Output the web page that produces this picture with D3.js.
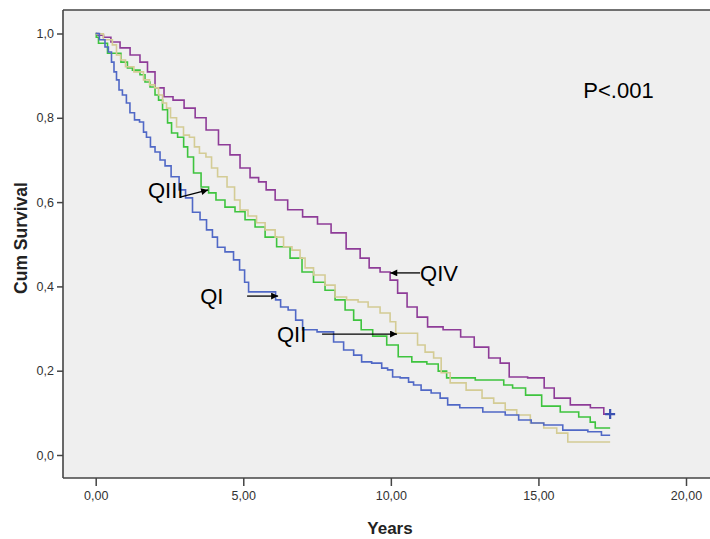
<!DOCTYPE html>
<html>
<head>
<meta charset="utf-8">
<script src="https://cdn.jsdelivr.net/npm/d3@7"></script>
<style>
  body { margin: 0; background: #fff; }
  svg { display: block; font-family: 'Liberation Sans', Arial, sans-serif; }
</style>
</head>
<body>
<svg id="chart" width="710" height="539"></svg>
<script>
// survival curves: [years, cum survival]
const qI = [[0, 1], [0.25, 0.985], [0.38, 0.968], [0.48, 0.956], [0.59, 0.932], [0.65, 0.909], [0.76, 0.89], [0.82, 0.866], [0.99, 0.854], [1.09, 0.835], [1.23, 0.812], [1.4, 0.795], [1.57, 0.79], [1.67, 0.766], [1.77, 0.754], [1.94, 0.731], [2.08, 0.719], [2.28, 0.7], [2.42, 0.686], [2.69, 0.66], [2.96, 0.629], [3.13, 0.61], [3.43, 0.576], [3.64, 0.558], [3.87, 0.534], [4.04, 0.517], [4.21, 0.493], [4.55, 0.482], [4.79, 0.463], [4.96, 0.439], [5.13, 0.41], [5.23, 0.387], [6.01, 0.387], [6.18, 0.368], [6.35, 0.351], [6.69, 0.344], [6.86, 0.32], [7.16, 0.297], [7.84, 0.292], [8.28, 0.268], [8.52, 0.249], [8.96, 0.237], [9.06, 0.221], [9.64, 0.218], [9.74, 0.206], [10.04, 0.202], [10.08, 0.185], [10.55, 0.183], [10.65, 0.173], [10.89, 0.166], [11.16, 0.154], [11.57, 0.147], [11.77, 0.135], [12.08, 0.119], [12.59, 0.112], [13.64, 0.102], [14.11, 0.095], [14.55, 0.083], [14.96, 0.076], [15.4, 0.071], [16.25, 0.059], [17.1, 0.055], [17.17, 0.047], [17.43, 0.047]]

const qII = [[0, 1], [0.04, 0.999], [0.48, 0.985], [0.65, 0.973], [0.76, 0.949], [0.93, 0.937], [1.09, 0.921], [1.5, 0.909], [1.74, 0.89], [1.91, 0.878], [2.08, 0.871], [2.18, 0.854], [2.35, 0.835], [2.45, 0.823], [2.62, 0.8], [2.86, 0.778], [3.09, 0.759], [3.26, 0.754], [3.43, 0.731], [3.6, 0.716], [3.87, 0.707], [3.98, 0.681], [4.28, 0.66], [4.62, 0.636], [4.79, 0.605], [4.99, 0.581], [5.33, 0.567], [5.57, 0.551], [5.91, 0.534], [6.25, 0.517], [6.48, 0.494], [6.82, 0.486], [7.03, 0.467], [7.16, 0.444], [7.6, 0.427], [7.94, 0.403], [8.28, 0.375], [8.72, 0.368], [9.06, 0.363], [9.4, 0.351], [9.87, 0.337], [10.08, 0.316], [10.25, 0.289], [10.82, 0.289], [10.99, 0.261], [11.33, 0.244], [11.57, 0.23], [11.84, 0.195], [12.18, 0.171], [12.92, 0.154], [13.26, 0.135], [13.71, 0.123], [14.04, 0.107], [14.49, 0.095], [14.96, 0.076], [15.4, 0.064], [15.84, 0.052], [16.15, 0.031], [17.43, 0.031]]

const qIII = [[0, 1], [0.04, 0.991], [0.15, 0.977], [0.65, 0.953], [1.06, 0.932], [1.09, 0.918], [1.4, 0.913], [1.6, 0.902], [1.74, 0.885], [1.94, 0.873], [2.08, 0.854], [2.18, 0.842], [2.35, 0.819], [2.52, 0.788], [2.62, 0.764], [2.93, 0.754], [3.03, 0.731], [3.2, 0.707], [3.43, 0.669], [3.71, 0.636], [3.94, 0.622], [4.21, 0.605], [4.55, 0.588], [4.89, 0.577], [5.23, 0.558], [5.57, 0.541], [5.91, 0.517], [6.35, 0.494], [6.82, 0.467], [7.16, 0.434], [7.6, 0.41], [7.94, 0.391], [8.28, 0.368], [8.62, 0.344], [8.86, 0.32], [9.13, 0.297], [9.64, 0.282], [10.08, 0.261], [10.42, 0.233], [11, 0.221], [11.44, 0.216], [11.77, 0.199], [12.01, 0.183], [13.71, 0.178], [13.94, 0.166], [14.31, 0.159], [14.82, 0.142], [15.4, 0.116], [16.08, 0.102], [16.65, 0.09], [16.86, 0.078], [16.99, 0.064], [17.43, 0.064]]

const qIV = [[0, 1], [0.15, 0.996], [0.38, 0.991], [0.65, 0.98], [1, 0.966], [1.33, 0.949], [1.67, 0.932], [1.84, 0.909], [2.18, 0.871], [2.45, 0.85], [2.79, 0.842], [3.2, 0.823], [3.54, 0.8], [3.94, 0.771], [4.38, 0.736], [4.72, 0.712], [5.06, 0.681], [5.4, 0.658], [5.64, 0.648], [5.91, 0.629], [6.25, 0.605], [6.76, 0.582], [7.26, 0.565], [7.77, 0.548], [8.18, 0.527], [8.79, 0.489], [9.13, 0.467], [9.4, 0.444], [9.87, 0.434], [10.08, 0.415], [10.38, 0.384], [10.72, 0.351], [11.06, 0.327], [11.43, 0.304], [12.11, 0.297], [12.62, 0.28], [13.03, 0.256], [13.6, 0.23], [13.81, 0.218], [14.21, 0.185], [15.06, 0.183], [15.33, 0.159], [15.74, 0.135], [16.42, 0.119], [17.1, 0.112], [17.33, 0.097], [17.43, 0.097]]

const seriesNames = ['QI', 'QII', 'QIII', 'QIV']
const seriesColors = ['#5068c6', '#d4cc95', '#3ec43e', '#8e3c98']
const censored = [[17.43, 0.097]]

const xTicks = [0, 5, 10, 15, 20]
const yTicks = [0, 0.2, 0.4, 0.6, 0.8, 1]

// labels with arrows: text anchor [years, surv], arrow from -> to
const labels = [
  { text: 'QIII', at: [1.77, 0.61], from: [2.86, 0.612], to: [3.81, 0.629] },
  { text: 'QI', at: [3.54, 0.358], from: [5.13, 0.377], to: [6.18, 0.377] },
  { text: 'QII', at: [6.14, 0.268], from: [7.67, 0.287], to: [10.21, 0.287] },
  { text: 'QIV', at: [10.99, 0.413], from: [10.99, 0.432], to: [9.98, 0.432] }
]
const pText = { text: 'P<.001', at: [16.52, 0.847] }

window.addEventListener('DOMContentLoaded', init)

function init () {
  const svg = d3.select('#chart')
  const panel = { left: 63, top: 10, right: 712, bottom: 478 }

  const x = d3.scaleLinear().domain([0, 20]).range([95.7, 686])
  const y = d3.scaleLinear().domain([0, 1]).range([455, 33.5])
  const comma = f => d => d3.format(f)(d).replace('.', ',')

  svg.append('rect')
    .attr('x', panel.left).attr('y', panel.top)
    .attr('width', panel.right - panel.left).attr('height', panel.bottom - panel.top)
    .attr('fill', '#efefef')

  // frame
  const frame = svg.append('g').attr('stroke', '#444').attr('stroke-width', 1.6)
  frame.append('line').attr('x1', panel.left).attr('x2', panel.right).attr('y1', panel.top).attr('y2', panel.top)
  frame.append('line').attr('x1', panel.left).attr('x2', panel.left).attr('y1', panel.top).attr('y2', panel.bottom)
  frame.append('line').attr('x1', panel.left).attr('x2', panel.right).attr('y1', panel.bottom).attr('y2', panel.bottom)

  const yAxis = svg.append('g')
    .attr('transform', `translate(${panel.left},0)`)
    .call(d3.axisLeft(y).tickValues(yTicks).tickFormat(comma('.1f')).tickSize(6).tickPadding(3))
  const xAxis = svg.append('g')
    .attr('transform', `translate(0,${panel.bottom})`)
    .call(d3.axisBottom(x).tickValues(xTicks).tickFormat(comma('.2f')).tickSize(8).tickPadding(5))
  for (const ax of [yAxis, xAxis]) {
    ax.select('.domain').remove()
    ax.selectAll('line').attr('stroke', '#444').attr('stroke-width', 1.5)
    ax.selectAll('text').attr('fill', '#333').style('font-size', '12.5px')
  }

  svg.append('text')
    .attr('x', 390).attr('y', 534)
    .attr('text-anchor', 'middle')
    .style('font-weight', 'bold').style('font-size', '17px')
    .attr('fill', '#222')
    .text('Years')
  svg.append('text')
    .attr('transform', 'translate(27,238) rotate(-90)')
    .attr('text-anchor', 'middle')
    .style('font-weight', 'bold').style('font-size', '17.5px')
    .attr('fill', '#222')
    .text('Cum Survival')

  // midpoint steps keep the staircase centred on the traced points
  const line = d3.line()
    .x(d => x(d[0]))
    .y(d => y(d[1]))
    .curve(d3.curveStep)

  const curves = [qI, qII, qIII, qIV]
  // draw QIV first so the lower curves sit on top where they meet
  svg.append('g')
    .selectAll('path')
    .data(curves.map((c, i) => ({ name: seriesNames[i], color: seriesColors[i], values: c })).reverse())
    .enter()
    .append('path')
    .attr('d', d => line(d.values))
    .attr('fill', 'none')
    .attr('stroke', d => d.color)
    .attr('stroke-width', 1.6)

  // censor mark
  svg.append('g')
    .selectAll('path')
    .data(censored)
    .enter()
    .append('path')
    .attr('d', d => {
      const cx = x(d[0])
      const cy = y(d[1])
      return `M${cx - 5},${cy}H${cx + 5}M${cx},${cy - 5}V${cy + 5}`
    })
    .attr('stroke', '#3a50b0')
    .attr('stroke-width', 2.2)

  svg.append('defs').append('marker')
    .attr('id', 'head')
    .attr('viewBox', '0 0 10 10')
    .attr('refX', 10).attr('refY', 5)
    .attr('markerWidth', 9).attr('markerHeight', 7)
    .attr('markerUnits', 'userSpaceOnUse')
    .attr('orient', 'auto')
    .append('path')
    .attr('d', 'M0,0L10,5L0,10Z')
    .attr('fill', '#000')

  const ann = svg.append('g')
  ann.selectAll('line')
    .data(labels)
    .enter()
    .append('line')
    .attr('x1', d => x(d.from[0])).attr('y1', d => y(d.from[1]))
    .attr('x2', d => x(d.to[0])).attr('y2', d => y(d.to[1]))
    .attr('stroke', '#000')
    .attr('stroke-width', 1.3)
    .attr('marker-end', 'url(#head)')
  ann.selectAll('text')
    .data(labels.concat([pText]))
    .enter()
    .append('text')
    .attr('x', d => x(d.at[0])).attr('y', d => y(d.at[1]))
    .style('font-size', '22px')
    .attr('fill', '#000')
    .text(d => d.text)
}
</script>
</body>
</html>
